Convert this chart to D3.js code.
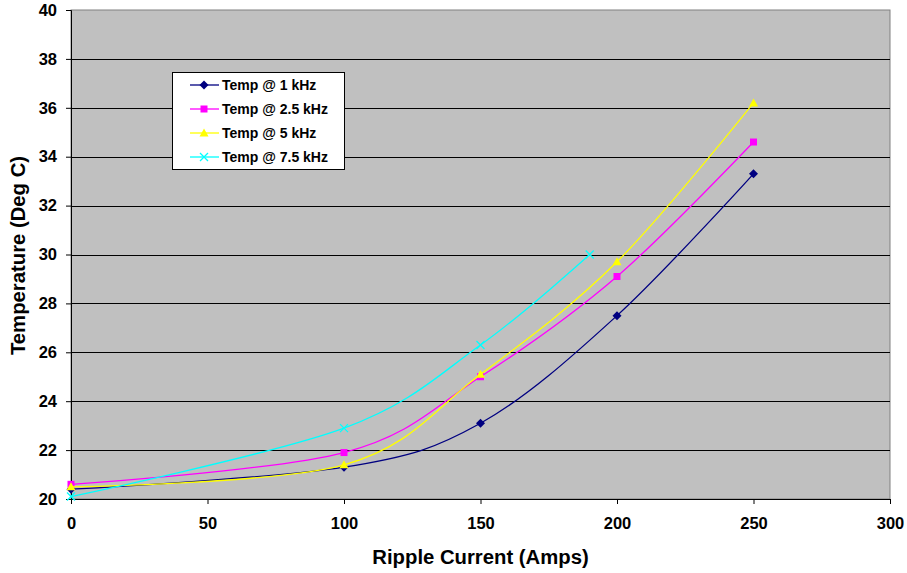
<!DOCTYPE html>
<html><head><meta charset="utf-8">
<script src="https://cdn.jsdelivr.net/npm/d3@7"></script>
<style>body{margin:0;background:#fff}svg{display:block;font-family:"Liberation Sans",Arial,sans-serif;font-weight:bold}</style>
</head><body><svg id="c" width="907" height="573"></svg>
<script>
const seriesNames = ["Temp @ 1 kHz","Temp @ 2.5 kHz","Temp @ 5 kHz","Temp @ 7.5 kHz"];
const xs1 = [0,100,150,200,250];
const temp1k = [20.4,21.3,23.1,27.5,33.3];
const temp25k = [20.6,21.9,25.0,29.1,34.6];
const temp5k = [20.5,21.4,25.1,29.7,36.2];
const xs75 = [0,100,150,190];
const temp75k = [20.1,22.9,26.3,30.0];
const xTicks = [0,50,100,150,200,250,300];
const yTicks = [20,22,24,26,28,30,32,34,36,38,40];
const colors = ["#000080","#FF00FF","#FFFF00","#00FFFF"];
const markers = ["diamond","square","triangle","x"];

const series = [
  {name:seriesNames[0], pts:xs1.map((x,i)=>[x,temp1k[i]])},
  {name:seriesNames[1], pts:xs1.map((x,i)=>[x,temp25k[i]])},
  {name:seriesNames[2], pts:xs1.map((x,i)=>[x,temp5k[i]])},
  {name:seriesNames[3], pts:xs75.map((x,i)=>[x,temp75k[i]])}
];

const L=71,R=890,T=10,B=499;
const svg=d3.select("#c");
const x=d3.scaleLinear().domain([0,300]).range([L,R]);
const y=d3.scaleLinear().domain([20,40]).range([B,T]);

svg.append("rect").attr("x",L).attr("y",T).attr("width",R-L).attr("height",B-T).attr("fill","#C0C0C0").attr("stroke","#808080").attr("stroke-width",1);

// gridlines
svg.append("g").selectAll("line").data(yTicks.filter(v=>v>20&&v<40)).join("line")
  .attr("x1",L).attr("x2",R).attr("y1",d=>Math.round(y(d))+0.5).attr("y2",d=>Math.round(y(d))+0.5)
  .attr("stroke","#000").attr("stroke-width",1);

// axes
const xa=svg.append("g").attr("transform",`translate(0,${B})`)
  .call(d3.axisBottom(x).tickValues(xTicks).tickSize(5).tickPadding(13));
const ya=svg.append("g").attr("transform",`translate(${L},0)`)
  .call(d3.axisLeft(y).tickValues(yTicks).tickSize(5).tickPadding(9));
[xa,ya].forEach(g=>{
  g.selectAll("text").attr("font-size",16.5).attr("font-weight","bold").attr("fill","#000").attr("font-family","Liberation Sans, Arial, sans-serif");
  g.select(".domain").attr("stroke","#000");
  g.selectAll(".tick line").attr("stroke","#000");
});

const line=d3.line().x(d=>x(d[0])).y(d=>y(d[1])).curve(d3.curveCardinal.tension(0));

function marker(g,type,color,cx,cy){
  if(type==="diamond"){
    g.append("path").attr("d",`M${cx},${cy-4.5}L${cx+4.5},${cy}L${cx},${cy+4.5}L${cx-4.5},${cy}Z`).attr("fill",color);
  } else if(type==="square"){
    g.append("rect").attr("x",cx-3.5).attr("y",cy-3.5).attr("width",7).attr("height",7).attr("fill",color);
  } else if(type==="triangle"){
    g.append("path").attr("d",`M${cx},${cy-4.5}L${cx+4.5},${cy+3.5}L${cx-4.5},${cy+3.5}Z`).attr("fill",color);
  } else {
    g.append("path").attr("d",`M${cx-4},${cy-4}L${cx+4},${cy+4}M${cx-4},${cy+4}L${cx+4},${cy-4}`).attr("stroke",color).attr("stroke-width",1.3);
  }
}

const plot=svg.append("g");
series.forEach((s,i)=>{
  const g=plot.append("g");
  g.append("path").datum(s.pts).attr("d",line).attr("fill","none").attr("stroke",colors[i]).attr("stroke-width",1.3);
  s.pts.forEach(p=>marker(g,markers[i],colors[i],x(p[0]),y(p[1])));
});

// legend
const lg=svg.append("g");
lg.append("rect").attr("x",172.5).attr("y",72.5).attr("width",172).attr("height",97).attr("fill","#fff").attr("stroke","#000").attr("stroke-width",1);
const rowsY=[85,109,133,157];
series.forEach((s,i)=>{
  lg.append("line").attr("x1",190).attr("x2",219).attr("y1",rowsY[i]).attr("y2",rowsY[i]).attr("stroke",colors[i]).attr("stroke-width",1.3);
  marker(lg,markers[i],colors[i],204,rowsY[i]);
  lg.append("text").attr("x",222).attr("y",rowsY[i]+5).attr("font-size",14).attr("fill","#000").text(s.name);
});

// titles
svg.append("text").attr("x",(L+R)/2).attr("y",564).attr("text-anchor","middle").attr("font-size",20.3).text("Ripple Current (Amps)");
svg.append("text").attr("transform",`translate(25,${(T+B)/2+1}) rotate(-90)`).attr("text-anchor","middle").attr("font-size",20.3).text("Temperature (Deg C)");
</script></body></html>
